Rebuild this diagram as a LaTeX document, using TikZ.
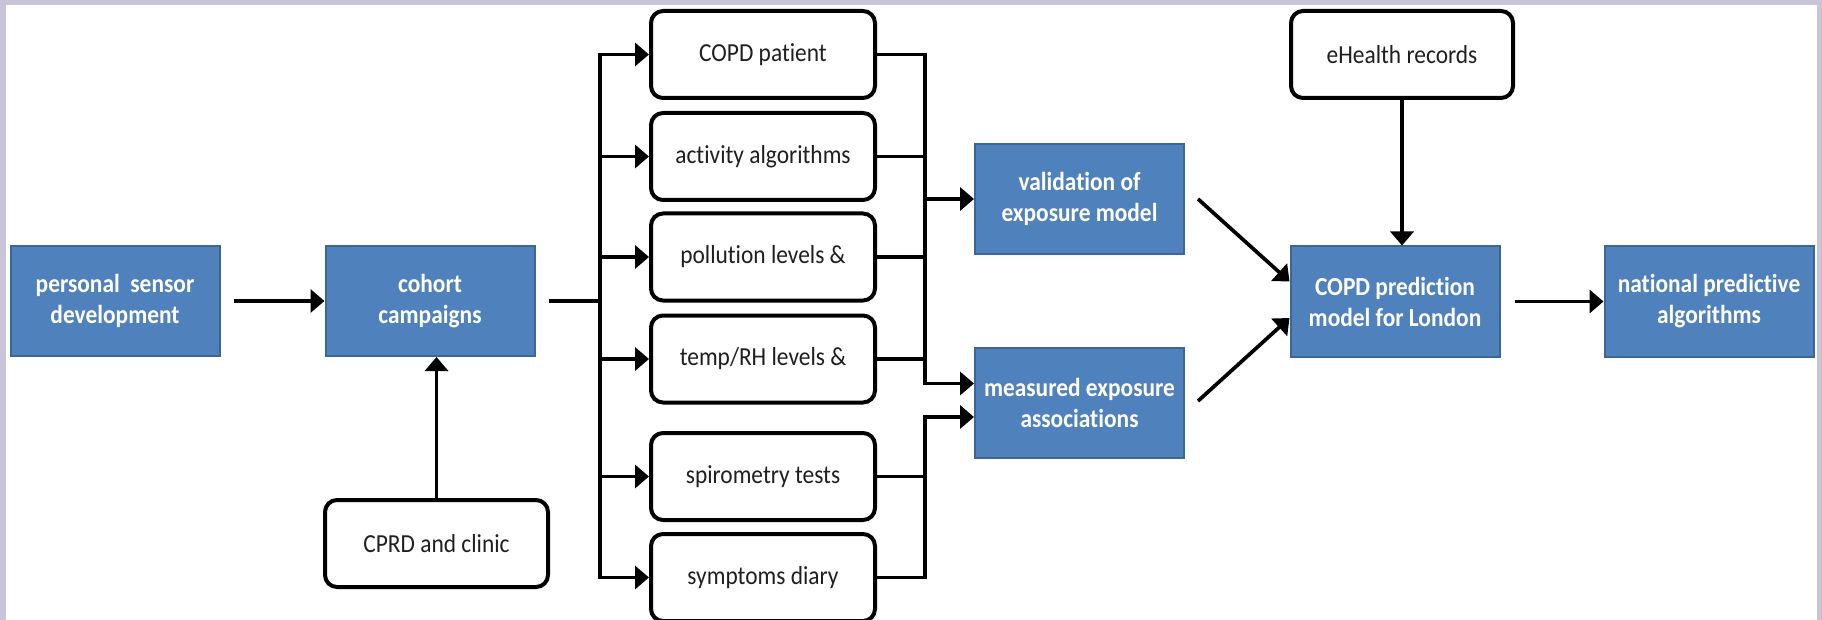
\documentclass[tikz,border=0pt]{standalone}
\usepackage{fontspec}
\setmainfont{Carlito}[FakeStretch=0.9, Ligatures=NoCommon]
\usetikzlibrary{arrows.meta}
\definecolor{framecol}{HTML}{C9C4D7}
\definecolor{boxblue}{HTML}{4F81BD}
\definecolor{boxedge}{HTML}{3C6698}
\begin{document}
\begin{tikzpicture}[x=1pt,y=-1pt,
  bluebox/.style={draw=boxedge, line width=2pt, fill=boxblue, text=white,
    font=\fontsize{26}{31}\selectfont\bfseries, align=center,
    minimum width=209pt, minimum height=110pt, inner sep=0pt},
  whitebox/.style={draw=black, line width=4pt, rounded corners=12pt, fill=white,
    text=black!88, font=\fontsize{26}{31}\selectfont, align=center,
    minimum width=224pt, minimum height=87pt, inner sep=0pt},
  link/.style={draw=black, line width=3.7pt},
  arr/.style={link, -{Triangle[length=14pt,width=23pt]}},
]
% frame and canvas
\fill[framecol] (0,0) rectangle (1822,620);
\fill[white] (6,5.5) rectangle (1817,620);
\useasboundingbox (0,0) rectangle (1822,620);

% process boxes
\node[bluebox] (psd) at (115,301) {personal~~sensor\\development};
\node[bluebox] (cohort) at (430,301) {cohort\\campaigns};
\node[whitebox, minimum width=223pt] (cprd) at (436.5,543.5) {CPRD and clinic};

\node[whitebox] (pat) at (763,54.5) {COPD patient};
\node[whitebox] (act) at (763,156.5) {activity algorithms};
\node[whitebox] (pol) at (763,257) {pollution levels \&};
\node[whitebox] (tmp) at (763,359) {temp/RH levels \&};
\node[whitebox] (spi) at (763,476.5) {spirometry tests};
\node[whitebox] (sym) at (763,577.5) {symptoms diary};

\node[bluebox] (val) at (1079.5,199) {validation of\\exposure model};
\node[bluebox] (mea) at (1079.5,403) {measured exposure\\associations};
\node[bluebox] (pred) at (1395,301.5) {COPD prediction\\model for London};
\node[whitebox, minimum width=222pt] (ehr) at (1402,54.5) {eHealth records};
\node[bluebox] (nat) at (1709,301.5) {national predictive\\algorithms};

% helper points
\coordinate (split) at (600,301);
\coordinate (col) at (925,0);
\coordinate (meain1) at ([yshift=19.5pt]mea.west);
\coordinate (meain2) at ([yshift=-14pt]mea.west);
\coordinate (valout) at ([xshift=13pt]val.east);
\coordinate (meaout) at ([xshift=13pt,yshift=2pt]mea.east);
\coordinate (predin1) at ([yshift=20pt]pred.west);
\coordinate (predin2) at ([yshift=-16.5pt]pred.west);

% left part
\draw[arr, shorten <=13pt] (psd.east) -- (cohort.west);
\draw[arr] (cprd.north) -- (cprd.north |- cohort.south);
\draw[link, shorten <=13pt] (cohort.east) -- (split);
\draw[link, line cap=rect] (split |- pat.west) -- (split |- sym.west);
\foreach \b in {pat,act,pol,tmp,spi,sym}
  \draw[arr] (split |- \b.west) -- (\b.west);

% collectors
\draw[arr] (pat.east) -- (col |- pat.east) -- (col |- meain1) -- (meain1);
\draw[link] (act.east) -- (col |- act.east);
\draw[link] (pol.east) -- (col |- pol.east);
\draw[link] (tmp.east) -- (col |- tmp.east);
\draw[arr] (col |- val.west) -- (val.west);
\draw[arr] (sym.east) -- (col |- sym.east) -- (col |- meain2) -- (meain2);
\draw[link] (spi.east) -- (col |- spi.east);

% right part
\draw[arr] (valout) -- (predin1);
\draw[arr] (meaout) -- (predin2);
\draw[arr] (ehr.south) -- (ehr.south |- pred.north);
\draw[arr, shorten <=14pt] (pred.east) -- (nat.west);
\end{tikzpicture}
\end{document}
